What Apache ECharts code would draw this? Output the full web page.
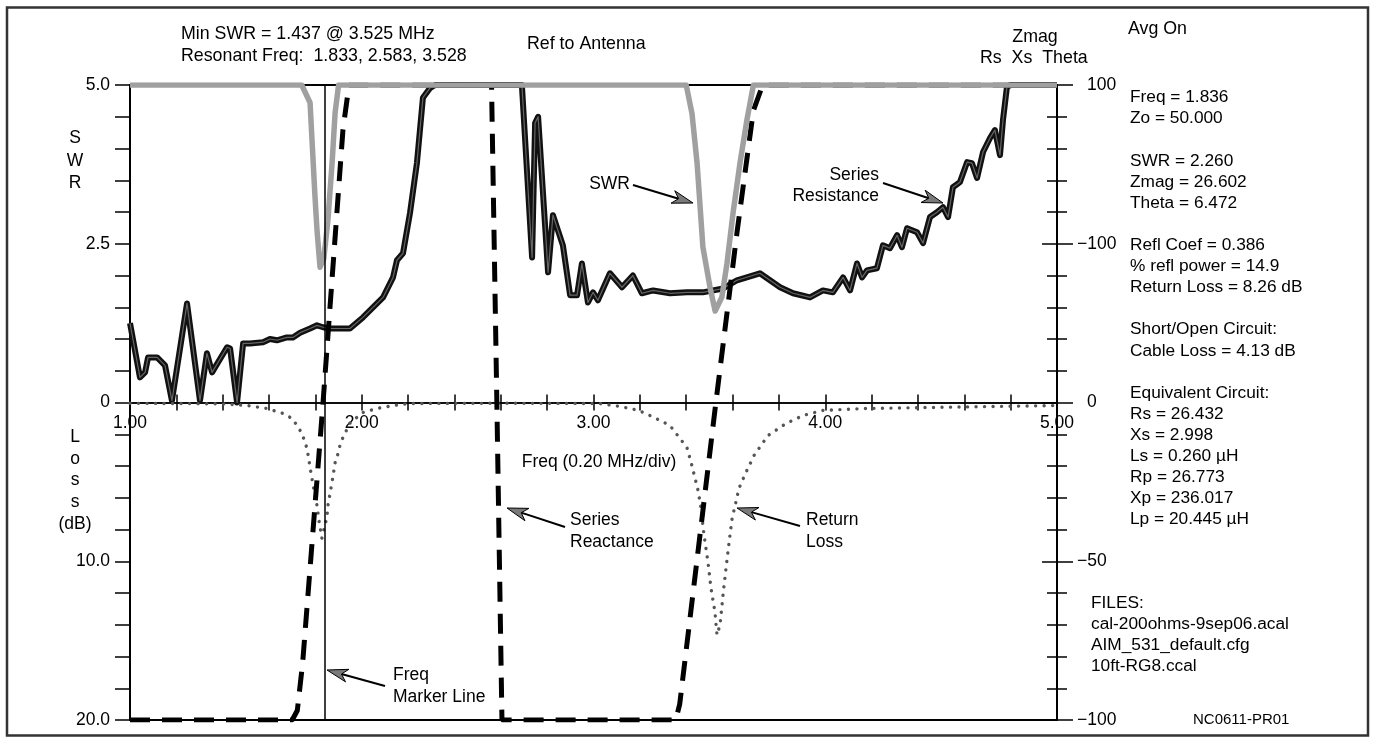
<!DOCTYPE html>
<html><head><meta charset="utf-8">
<script src="https://cdn.jsdelivr.net/npm/echarts@6.0.0/dist/echarts.min.js"></script>
<style>html,body{margin:0;padding:0;background:#fff}#c{width:1376px;height:740px}</style>
</head><body><div id="c"></div>
<script>
const FONT = '"Liberation Sans", Arial, Helvetica, sans-serif';

// ---------- DATA ----------
// SWR (left scale, top half)
const swrFreq  = [1.00, 1.741, 1.777, 1.798, 1.807, 1.820, 1.836, 1.854, 1.872, 1.885, 1.900,
                  3.400, 3.425, 3.447, 3.472, 3.503, 3.525, 3.554, 3.576, 3.602, 3.632, 3.662, 3.690, 5.00];
const swrValue = [5.0, 5.0, 4.72, 3.26, 2.71, 2.13, 2.26, 2.87, 3.77, 4.56, 5.0,
                  5.0, 4.55, 3.77, 2.45, 1.81, 1.44, 1.66, 2.19, 2.98, 3.77, 4.45, 5.0, 5.0];

// Return loss in dB (left scale, bottom half)
const lossFreq  = [1.00, 1.40, 1.505, 1.591, 1.660, 1.699, 1.721, 1.742, 1.764, 1.777, 1.790, 1.807, 1.816, 1.828,
                   1.850, 1.854, 1.872, 1.885, 1.898, 1.906, 1.919, 1.949, 2.005, 2.066, 2.135, 2.208, 2.600,
                   3.024, 3.114, 3.196, 3.261, 3.330, 3.373, 3.403, 3.421, 3.433, 3.451, 3.464, 3.477, 3.494,
                   3.507, 3.524, 3.533, 3.546, 3.559, 3.572, 3.585, 3.598, 3.611, 3.628, 3.658, 3.693, 3.753,
                   3.831, 3.904, 3.990, 4.171, 4.469, 5.00];
const lossValue = [0.05, 0.08, 0.19, 0.38, 0.69, 1.0, 1.45, 1.95, 2.9, 4.1, 5.2, 6.5, 7.5, 8.55,
                   7.2, 6.5, 5.0, 3.8, 3.2, 2.7, 2.2, 1.3, 0.63, 0.38, 0.19, 0.06, 0.05,
                   0.06, 0.25, 0.5, 0.94, 1.45, 2.26, 2.83, 3.77, 4.47, 5.53, 6.67, 8.36, 10.06,
                   11.7, 13.2, 14.65, 14.0, 12.1, 10.4, 8.8, 7.3, 6.5, 5.4, 4.4, 3.33, 2.08,
                   1.32, 0.82, 0.5, 0.38, 0.31, 0.19];

// Series resistance Rs (right scale)
const rsFreq  = [1.000, 1.043, 1.065, 1.078, 1.117, 1.151, 1.181, 1.246, 1.302, 1.332, 1.354, 1.419, 1.432, 1.462,
                 1.488, 1.518, 1.574, 1.604, 1.634, 1.677, 1.703, 1.734, 1.777, 1.807, 1.833, 1.863, 1.949, 2.005,
                 2.092, 2.135, 2.152, 2.178, 2.208, 2.238, 2.264, 2.294, 2.316, 2.691, 2.735, 2.748, 2.761, 2.804,
                 2.825, 2.868, 2.899, 2.929, 2.950, 2.976, 2.998, 3.019, 3.071, 3.123, 3.170, 3.209, 3.257, 3.330,
                 3.403, 3.472, 3.559, 3.619, 3.718, 3.805, 3.861, 3.934, 3.990, 4.033, 4.077, 4.107, 4.137, 4.159,
                 4.180, 4.223, 4.249, 4.279, 4.310, 4.331, 4.353, 4.396, 4.422, 4.452, 4.482, 4.508, 4.530, 4.551,
                 4.581, 4.612, 4.633, 4.655, 4.681, 4.711, 4.732, 4.754, 4.767, 4.784, 4.800, 5.000];
const rsValue = [25, 7.9, 9.5, 14.2, 14.2, 11.7, 0.6, 31.2, 0.6, 15.5, 9.5, 17.4, 17, 0,
                 18.6, 18.6, 19, 20, 19.6, 20.5, 20.5, 22, 23.3, 24.3, 23.7, 23.3, 23.3, 26.8,
                 33.1, 39.4, 44.8, 47, 59.6, 75.4, 96, 99, 100, 100, 45.7, 88, 90, 41,
                 59, 49.5, 33.8, 33.8, 43.8, 31.5, 34.7, 32.2, 40.7, 36.3, 40, 34.4, 35.3, 34.4,
                 34.7, 34.7, 35.9, 38.5, 40.7, 36.3, 34.4, 33.1, 35.3, 34.7, 39.4, 35.3, 43.8, 39.4,
                 41.6, 42.3, 49.5, 48.6, 52.7, 48.9, 54.9, 53.6, 50.2, 58.4, 59.9, 61.5, 58.4, 67.8,
                 69.4, 75.7, 75.4, 70.7, 78.9, 83.3, 85.8, 77.9, 89, 99.4, 100, 100];

// Series reactance Xs (right scale, pegged at +/-100)
const xsFreq  = [1.00, 1.700, 1.722, 1.745, 1.833, 1.919, 1.945, 2.560, 2.583, 2.605,
                 3.355, 3.372, 3.400, 3.528, 3.620, 3.690, 3.730, 5.00];
const xsValue = [-100, -100, -97, -82, 0, 86, 100, 100, 0, -100,
                 -100, -95, -78, 0, 54, 92, 100, 100];

const markerFreq = 1.836;

// Tick labels
const xLabelValues   = [1, 2, 3, 4, 5];
const swrTickValues  = [5, 2.5, 0];
const swrTickLabels  = ['5.0', '2.5', '0'];
const lossTickValues = [10, 20];
const lossTickLabels = ['10.0', '20.0'];
const rightTickValues = [100, 50, 0, -50, -100];
const rightTickLabels = ['100', '\u2212100', '0', '\u221250', '\u2212100'];

const panelLines = ['Freq = 1.836', 'Zo = 50.000', '', 'SWR = 2.260', 'Zmag = 26.602', 'Theta = 6.472', '',
  'Refl Coef = 0.386', '% refl power = 14.9', 'Return Loss = 8.26 dB', '', 'Short/Open Circuit:',
  'Cable Loss = 4.13 dB', '', 'Equivalent Circuit:', 'Rs = 26.432', 'Xs = 2.998', 'Ls = 0.260 \u00b5H',
  'Rp = 26.773', 'Xp = 236.017', 'Lp = 20.445 \u00b5H'];
const fileLines = ['FILES:', 'cal-200ohms-9sep06.acal', 'AIM_531_default.cfg', '10ft-RG8.ccal'];

// ---------- BUILD ----------
const GRID = { left: 130, top: 85, width: 927, height: 635 };
const FS = 17.5, FS_HEAD = 17.8, FS_PANEL = 17.3;
const zip = (a, b) => a.map((v, i) => [v, b[i]]);
const pick = (vals, labels) => (v) => {
  const i = vals.findIndex(t => Math.abs(t - v) < 1e-6);
  return i >= 0 ? labels[i] : '';
};
const lbl = { fontFamily: FONT, fontSize: FS, color: '#000' };

function txt(text, x, y, opt) {
  opt = opt || {};
  return { type: 'text', x: x, y: y, z: 100, silent: true,
    style: Object.assign({ text: text, fill: '#000', fontFamily: FONT, fontSize: FS,
      align: 'left', verticalAlign: 'middle' }, opt) };
}
function arrow(x1, y1, x2, y2) {
  const dx = x2 - x1, dy = y2 - y1, L = Math.hypot(dx, dy);
  const ux = dx / L, uy = dy / L, px = -uy, py = ux;
  const hl = 21, hw = 6.5, nt = 15;
  const bx = x2 - ux * hl, by = y2 - uy * hl, nx = x2 - ux * nt, ny = y2 - uy * nt;
  return [
    { type: 'line', z: 100, silent: true, shape: { x1: x1, y1: y1, x2: nx, y2: ny }, style: { stroke: '#000', lineWidth: 2 } },
    { type: 'polygon', z: 101, silent: true,
      shape: { points: [[x2, y2], [bx + px * hw, by + py * hw], [nx, ny], [bx - px * hw, by - py * hw]] },
      style: { fill: '#7a7a7a', stroke: '#000', lineWidth: 1 } }
  ];
}

const graphics = [
  { type: 'rect', z: 0, silent: true, shape: { x: 7, y: 7.5, width: 1361, height: 728 },
    style: { fill: 'none', stroke: '#333', lineWidth: 2.5 } },
  txt('Min SWR = 1.437 @ 3.525 MHz', 181, 34, { fontSize: FS_HEAD }),
  txt('Resonant Freq:  1.833, 2.583, 3.528', 181, 56, { fontSize: FS_HEAD }),
  txt('Ref to Antenna', 527, 44, { fontSize: FS_HEAD }),
  txt('Zmag', 1035, 37, { align: 'center', fontSize: FS_HEAD }),
  txt('Rs  Xs  Theta', 980, 58, { fontSize: FS_HEAD }),
  txt('Avg On', 1128, 29, { fontSize: FS_HEAD }),
  txt(panelLines.join('\n'), 1130, 87, { verticalAlign: 'top', lineHeight: 21.1, fontSize: FS_PANEL }),
  txt(fileLines.join('\n'), 1091, 592.5, { verticalAlign: 'top', lineHeight: 21, fontSize: FS_PANEL }),
  txt('NC0611-PR01', 1193, 720, { fontSize: 15 }),
  txt('S\nW\nR', 75, 127, { align: 'center', verticalAlign: 'top', lineHeight: 22.5 }),
  txt('L\no\ns\ns\n(dB)', 75, 426, { align: 'center', verticalAlign: 'top', lineHeight: 21.8 }),
  txt('Freq (0.20 MHz/div)', 599, 462, { align: 'center' }),
  txt('SWR', 630, 184, { align: 'right' }),
  txt('Series\nResistance', 879, 164.5, { align: 'right', verticalAlign: 'top', lineHeight: 21 }),
  txt('Series\nReactance', 570, 509.5, { verticalAlign: 'top', lineHeight: 21.5 }),
  txt('Return\nLoss', 806, 509.5, { verticalAlign: 'top', lineHeight: 21.5 }),
  txt('Freq\nMarker Line', 393, 664, { verticalAlign: 'top', lineHeight: 22 })
].concat(arrow(633, 185, 693, 203), arrow(883, 183, 943, 203), arrow(565, 527, 507, 508),
         arrow(800, 526, 737, 508), arrow(385, 686, 327, 670));

// The frequency axis sits on the SWR/Loss zero line, i.e. halfway down the plot
const xBase = {
  type: 'value', min: 1, max: 5, interval: 0.2, position: 'top', offset: -GRID.height / 2,
  axisLine: { show: true, onZero: false, lineStyle: { color: '#000', width: 1.5 } },
  splitLine: { show: false }
};

const richRight = {
  d: { fontFamily: FONT, fontSize: FS, color: '#000', padding: [0, 0, 0, 10] },
  m: { fontFamily: FONT, fontSize: FS, color: '#000' }
};

const option = {
  animation: false,
  backgroundColor: '#fff',
  grid: Object.assign({ show: true, borderColor: '#000', borderWidth: 2,
          backgroundColor: 'transparent', outerBoundsMode: 'none', containLabel: false }, GRID),
  xAxis: [
    Object.assign({}, xBase, {
      axisTick: { show: true, inside: true, length: 8, lineStyle: { color: '#000', width: 1.5 } },
      axisLabel: Object.assign({ inside: true, margin: 12, showMinLabel: true, showMaxLabel: true,
        formatter: (v) => xLabelValues.some(t => Math.abs(t - v) < 1e-6) ? v.toFixed(2) : '' }, lbl)
    }),
    Object.assign({}, xBase, {
      axisTick: { show: true, inside: false, length: 8, lineStyle: { color: '#000', width: 1.5 } },
      axisLabel: { show: false }
    })
  ],
  yAxis: [
    { type: 'value', min: -5, max: 5, interval: 0.5, position: 'left',
      axisLine: { show: true, onZero: false, lineStyle: { color: '#000', width: 2 } },
      axisTick: { show: true, length: 15, lineStyle: { color: '#000', width: 1.5 } },
      axisLabel: Object.assign({ margin: 20, showMinLabel: true, showMaxLabel: true,
        formatter: pick(swrTickValues, swrTickLabels) }, lbl),
      splitLine: { show: false } },
    { type: 'value', min: -20, max: 20, interval: 10, inverse: true, position: 'left',
      axisLine: { show: false, onZero: false }, axisTick: { show: false },
      axisLabel: Object.assign({ margin: 20, showMinLabel: true, showMaxLabel: true,
        formatter: pick(lossTickValues, lossTickLabels) }, lbl),
      splitLine: { show: false } },
    { type: 'value', min: -100, max: 100, interval: 50, position: 'right',
      axisLine: { show: true, onZero: false, lineStyle: { color: '#000', width: 2 } },
      axisTick: { show: true, length: 16, lineStyle: { color: '#000', width: 1.5 } },
      minorTick: { show: true, splitNumber: 5, length: 10, lineStyle: { color: '#000', width: 1.5 } },
      axisLabel: Object.assign({ margin: 20, showMinLabel: true, showMaxLabel: true, rich: richRight,
        formatter: (v) => {
          const s = pick(rightTickValues, rightTickLabels)(v);
          if (!s) return '';
          return s.charAt(0) === '\u2212' ? '{m|' + s + '}' : '{d|' + s + '}';
        } }, lbl),
      splitLine: { show: false }, minorSplitLine: { show: false } },
    { type: 'value', min: -100, max: 100, interval: 50, position: 'right',
      axisLine: { show: false, onZero: false },
      axisTick: { show: true, inside: true, length: 15, lineStyle: { color: '#000', width: 1.5 } },
      minorTick: { show: true, splitNumber: 5, length: 10, lineStyle: { color: '#000', width: 1.5 } },
      axisLabel: { show: false }, splitLine: { show: false }, minorSplitLine: { show: false } }
  ],
  series: [
    { name: 'Rs', type: 'line', xAxisIndex: 0, yAxisIndex: 2, data: zip(rsFreq, rsValue),
      showSymbol: false, symbol: 'none', clip: true, z: 3,
      lineStyle: { color: '#111', width: 6, join: 'round' } },
    { name: 'Rs core', type: 'line', xAxisIndex: 0, yAxisIndex: 2, data: zip(rsFreq, rsValue),
      showSymbol: false, symbol: 'none', clip: true, z: 3,
      lineStyle: { color: '#666', width: 1.2, join: 'round' } },
    { name: 'Return Loss', type: 'line', xAxisIndex: 0, yAxisIndex: 1, data: zip(lossFreq, lossValue),
      showSymbol: false, symbol: 'none', clip: true, z: 3,
      lineStyle: { color: '#555', width: 3.4, type: [0.01, 8.5], cap: 'round' } },
    { name: 'Xs', type: 'line', xAxisIndex: 0, yAxisIndex: 2, data: zip(xsFreq, xsValue),
      showSymbol: false, symbol: 'none', clip: true, z: 3,
      lineStyle: { color: '#000', width: 5, type: [20, 12] } },
    { name: 'SWR', type: 'line', xAxisIndex: 0, yAxisIndex: 0, data: zip(swrFreq, swrValue),
      showSymbol: false, symbol: 'none', clip: true, z: 3,
      lineStyle: { color: '#a0a0a0', width: 5.5, join: 'round' },
      markLine: { silent: true, symbol: ['none', 'none'], label: { show: false }, animation: false,
        lineStyle: { color: '#000', width: 1.5, type: 'solid' },
        data: [{ xAxis: markerFreq }] } }
  ],
  graphic: graphics
};

const chart = echarts.init(document.getElementById('c'), null, { renderer: 'canvas' });
chart.setOption(option);
</script></body></html>
